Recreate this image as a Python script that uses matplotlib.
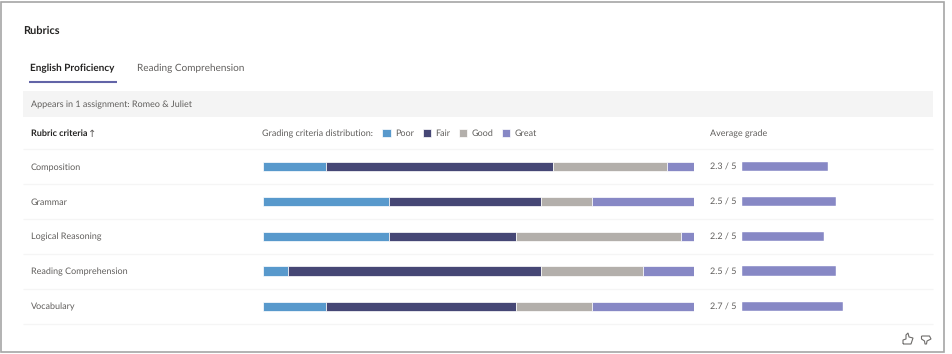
import matplotlib
matplotlib.use("Agg")
import matplotlib.pyplot as plt
from matplotlib.patches import Rectangle, PathPatch
from matplotlib.path import Path

plt.rcParams["font.family"] = ["Lato", "DejaVu Sans"]
plt.rcParams["text.hinting"] = "no_hinting"
plt.rcParams["text.hinting_factor"] = 1

W, H = 953, 354

criteria = ["Composition", "Grammar", "Logical Reasoning", "Reading Comprehension", "Vocabulary"]
grades = ["Poor", "Fair", "Good", "Great"]
colors = ["#5899CC", "#464775", "#B3AFAB", "#8788C5"]

# percent of each criterion
poor = [14.6, 29.2, 29.2, 5.9, 14.6]
fair = [52.6, 35.2, 29.4, 58.5, 44]
good = [26.5, 11.9, 38.3, 23.6, 17.7]
great = [6.3, 23.7, 3.1, 12, 23.7]
average = [2.3, 2.5, 2.2, 2.5, 2.7]
average_labels = ["2.3 / 5", "2.5 / 5", "2.2 / 5", "2.5 / 5", "2.7 / 5"]

row_y = [166.5, 201.3, 236.3, 271, 306.3]
row_lines = [149, 184, 219, 253.5, 288.5, 323.5]

dark = "#252423"
gray = "#605E5C"


def sub_axes(left, right):
    # axes that share the pixel rows of the page
    a = fig.add_axes([left / W, 0, (right - left) / W, 1])
    a.set_ylim(H, 0)
    a.axis("off")
    a.patch.set_alpha(0)
    return a


fig = plt.figure(figsize=(W / 100, H / 100), dpi=100)

# page in pixel coordinates
ax = fig.add_axes([0, 0, 1, 1])
ax.set_xlim(0, W)
ax.set_ylim(H, 0)
ax.axis("off")

ax.add_patch(Rectangle((1.5, 1.5), 943, 350.5, fc="white", ec="#A6A6A6", lw=1.2))
ax.add_patch(Rectangle((23, 91), 910, 25.5, fc="#F4F4F4", ec="none"))
ax.hlines(row_lines, 23, 933, color="#F5F5F5", lw=1)
ax.plot([29, 117], [82, 82], color="#6264A7", lw=1.5, solid_capstyle="butt")

ax.text(23, 30.5, "Rubrics", fontsize=7.9, color=dark, weight="bold", va="center")
ax.text(30.5, 68, "English Proficiency", fontsize=7.2, color=dark, weight="bold", va="center")
ax.text(137.5, 68, "Reading Comprehension", fontsize=7.2, color=gray, va="center")
ax.text(31, 104.5, "Appears in 1 assignment: Romeo & Juliet", fontsize=6.48, color=gray, va="center")
ax.text(31.5, 133.5, "Rubric criteria", fontsize=6.48, color=dark, weight="bold", va="center")
ax.text(92.5, 134, "↑", fontsize=7.5, color=gray, va="center", ha="center", family="DejaVu Sans")
ax.text(262.5, 133.5, "Grading criteria distribution:", fontsize=6.48, color=gray, va="center")
ax.text(710.5, 133.5, "Average grade", fontsize=6.48, color=gray, va="center")

for y, name, label in zip(row_y, criteria, average_labels):
    ax.text(31, y + 1, name, fontsize=6.48, color=gray, va="center")
    ax.text(710.5, y + 1, label, fontsize=6.48, color=gray, va="center")

# stacked distribution bars
dist = sub_axes(263, 694.5)
dist.set_xlim(0, 100)
left = [0] * len(criteria)
handles = []
for values, name, color in zip([poor, fair, good, great], grades, colors):
    bars = dist.barh(row_y, values, height=9.5, left=left, color=color,
                     edgecolor="white", linewidth=0.5, label=name)
    handles.append(bars)
    left = [a + b for a, b in zip(left, values)]

ax.legend(handles, grades, ncol=4, frameon=False, loc="center left",
          bbox_to_anchor=(382.5, 133), bbox_transform=ax.transData,
          fontsize=6.48, labelcolor=gray, handlelength=0.95, handleheight=0.95,
          handletextpad=0.45, columnspacing=0.95, borderpad=0, borderaxespad=0)

# average grade bars on a 0-5 scale
avg = sub_axes(742.3, 929)
avg.set_xlim(0, 5)
avg.barh(row_y, average, height=9.5, color=colors[3], edgecolor="white", linewidth=0.3)

# feedback icons
thumb = [(903, 344), (911, 344), (913, 338), (909, 337), (908, 333), (906, 335), (906, 339), (903, 340), (903, 344)]
ax.add_patch(PathPatch(Path(thumb), fc="none", ec="#6E6C6A", lw=0.8))
down = [(921.5, 336), (929.5, 336), (931, 339), (927, 341), (926.5, 344), (925, 344), (924.5, 341), (921.5, 339), (921.5, 336)]
ax.add_patch(PathPatch(Path(down), fc="none", ec="#6E6C6A", lw=0.8))

fig.savefig("out.png", dpi=100)
